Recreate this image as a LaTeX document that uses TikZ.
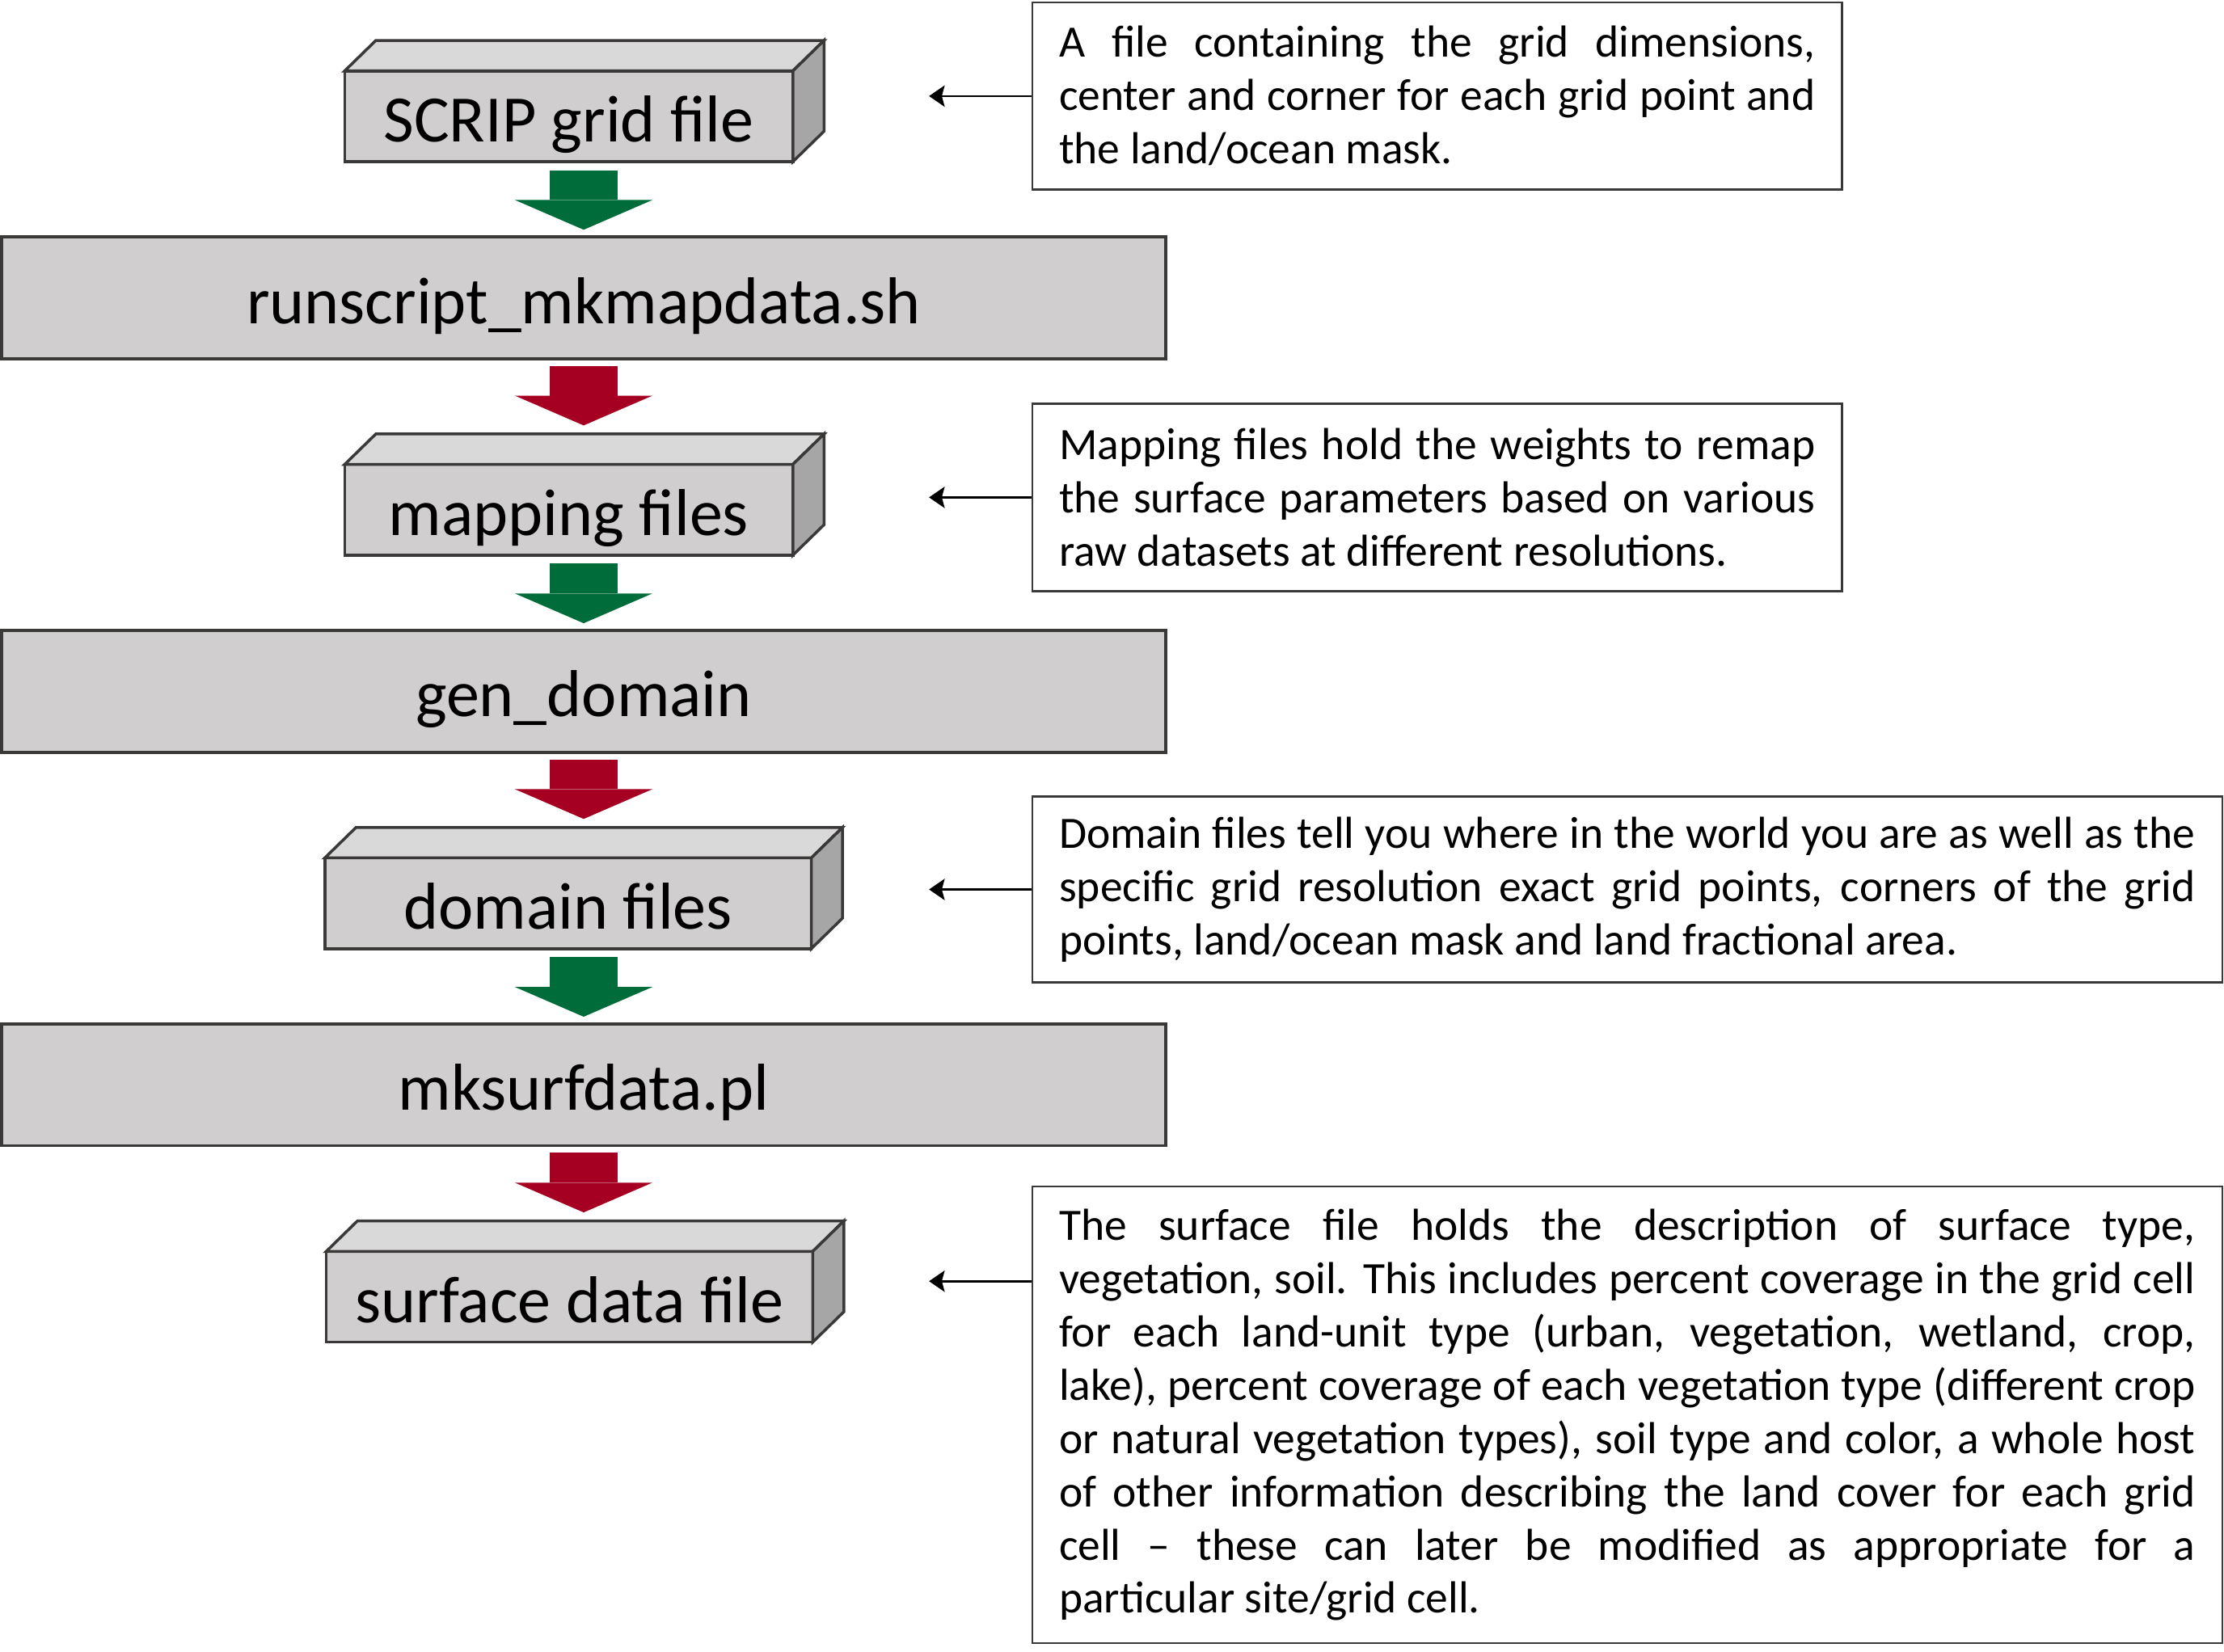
\documentclass[tikz,border=0pt]{standalone}
\usepackage{fontspec}
\setmainfont{Carlito}
\usepackage{tikz}
\usetikzlibrary{positioning,arrows.meta}

\definecolor{boxline}{RGB}{59,56,56}
\definecolor{frontgray}{RGB}{208,206,206}
\definecolor{topgray}{RGB}{217,217,217}
\definecolor{sidegray}{RGB}{166,166,166}
\definecolor{flowgreen}{RGB}{0,108,57}
\definecolor{flowred}{RGB}{165,0,33}

\tikzset{
  widebox/.style={draw=boxline, fill=frontgray, line width=0.02cm, outer sep=0pt, inner sep=0pt,
    minimum width=8.21cm, minimum height=0.86cm, text height=0.36cm, text depth=0pt,
    font=\fontsize{13.3}{16}\selectfont},
  filebox/.style={widebox, minimum width=3.16cm, minimum height=0.64cm},
  topface/.style={draw=boxline, fill=topgray, line width=0.02cm},
  sideface/.style={draw=boxline, fill=sidegray, line width=0.02cm},
  notebox/.style={draw=boxline, line width=0.015cm, anchor=north west, text width=5.33cm,
    inner xsep=0.19cm, inner ysep=0pt, align=justify, font=\fontsize{9}{10.7}\selectfont},
  greenflow/.style={draw=flowgreen, line width=0.48cm, -{Triangle[length=0.21cm,width=0.97cm,line width=0pt]},
    shorten <=0.06cm, shorten >=0.05cm},
  redflow/.style={greenflow, draw=flowred, shorten <=0.05cm, shorten >=0.275cm},
  notearrow/.style={line width=0.45pt, -{Stealth[length=0.11cm,width=0.15cm,inset=0.02cm]}}
}

\begin{document}
\begin{tikzpicture}
\useasboundingbox (0,0) rectangle (15.68,-11.65);
\node[widebox] (mkmap) at (4.115,-2.10) {runscript\_mkmapdata.sh};
\node[filebox, above=0.53cm of mkmap, xshift=-0.105cm] (scrip) {SCRIP grid file};
\node[filebox, below=0.745cm of mkmap, xshift=-0.105cm] (mapping) {mapping files};
\node[widebox, below=0.53cm of mapping, xshift=0.105cm] (gendom) {gen\_domain};
\node[filebox, minimum width=3.43cm, below=0.745cm of gendom, xshift=-0.11cm] (domain) {domain files};
\node[widebox, below=0.53cm of domain, xshift=0.11cm] (mksurf) {mksurfdata.pl};
\node[filebox, minimum width=3.43cm, below=0.745cm of mksurf, xshift=-0.10cm] (surface) {surface data file};
%----------------------------------
\draw[topface] (scrip.north west) -- ++(0.22,0.215) -- ([shift={(0.22,0.215)}]scrip.north east) -- (scrip.north east) -- cycle;
\draw[sideface] (scrip.north east) -- ++(0.22,0.215) -- ([shift={(0.22,0.215)}]scrip.south east) -- (scrip.south east) -- cycle;
\draw[topface] (mapping.north west) -- ++(0.22,0.215) -- ([shift={(0.22,0.215)}]mapping.north east) -- (mapping.north east) -- cycle;
\draw[sideface] (mapping.north east) -- ++(0.22,0.215) -- ([shift={(0.22,0.215)}]mapping.south east) -- (mapping.south east) -- cycle;
\draw[topface] (domain.north west) -- ++(0.22,0.215) -- ([shift={(0.22,0.215)}]domain.north east) -- (domain.north east) -- cycle;
\draw[sideface] (domain.north east) -- ++(0.22,0.215) -- ([shift={(0.22,0.215)}]domain.south east) -- (domain.south east) -- cycle;
\draw[topface] (surface.north west) -- ++(0.22,0.215) -- ([shift={(0.22,0.215)}]surface.north east) -- (surface.north east) -- cycle;
\draw[sideface] (surface.north east) -- ++(0.22,0.215) -- ([shift={(0.22,0.215)}]surface.south east) -- (surface.south east) -- cycle;
%----------------------------------
\draw[greenflow] (mkmap.north |- scrip.south) -- (mkmap.north);
\draw[redflow] (mkmap.south) -- (mkmap.south |- mapping.north);
\draw[greenflow] (gendom.north |- mapping.south) -- (gendom.north);
\draw[redflow] (gendom.south) -- (gendom.south |- domain.north);
\draw[greenflow] (mksurf.north |- domain.south) -- (mksurf.north);
\draw[redflow] (mksurf.south) -- (mksurf.south |- surface.north);
%----------------------------------
\node[notebox, minimum height=1.32cm] (d1) at (7.27,-0.01) {A file containing the grid dimensions,\linebreak center and corner for each grid point and\linebreak the land/ocean mask.};
\node[notebox, minimum height=1.32cm] (d2) at (7.27,-2.84) {Mapping files hold the weights to remap\linebreak the surface parameters based on various\linebreak raw datasets at different resolutions.};
\node[notebox, text width=8.01cm, minimum height=1.31cm] (d3) at (7.27,-5.61) {Domain files tell you where in the world you are as well as the\linebreak specific grid resolution exact grid points, corners of the grid\linebreak points, land/ocean mask and land fractional area.};
\node[notebox, text width=8.01cm, minimum height=3.22cm] (d4) at (7.27,-8.36) {The surface file holds the description of surface type,\linebreak vegetation, soil. This includes percent coverage in the grid cell\linebreak for each land-unit type (urban, vegetation, wetland, crop,\linebreak lake), percent coverage of each vegetation type (different crop\linebreak or natural vegetation types), soil type and color, a whole host\linebreak of other information describing the land cover for each grid\linebreak cell – these can later be modified as appropriate for a\linebreak particular site/grid cell.};
%----------------------------------
\coordinate (tipx) at (6.55,0);
\coordinate (tip4) at (6.55,-9.035);
\draw[notearrow] (d1.west) -- (d1.west -| tipx);
\draw[notearrow] (d2.west) -- (d2.west -| tipx);
\draw[notearrow] (d3.west) -- (d3.west -| tipx);
\draw[notearrow] (d4.west |- tip4) -- (tip4);
\end{tikzpicture}
\end{document}
